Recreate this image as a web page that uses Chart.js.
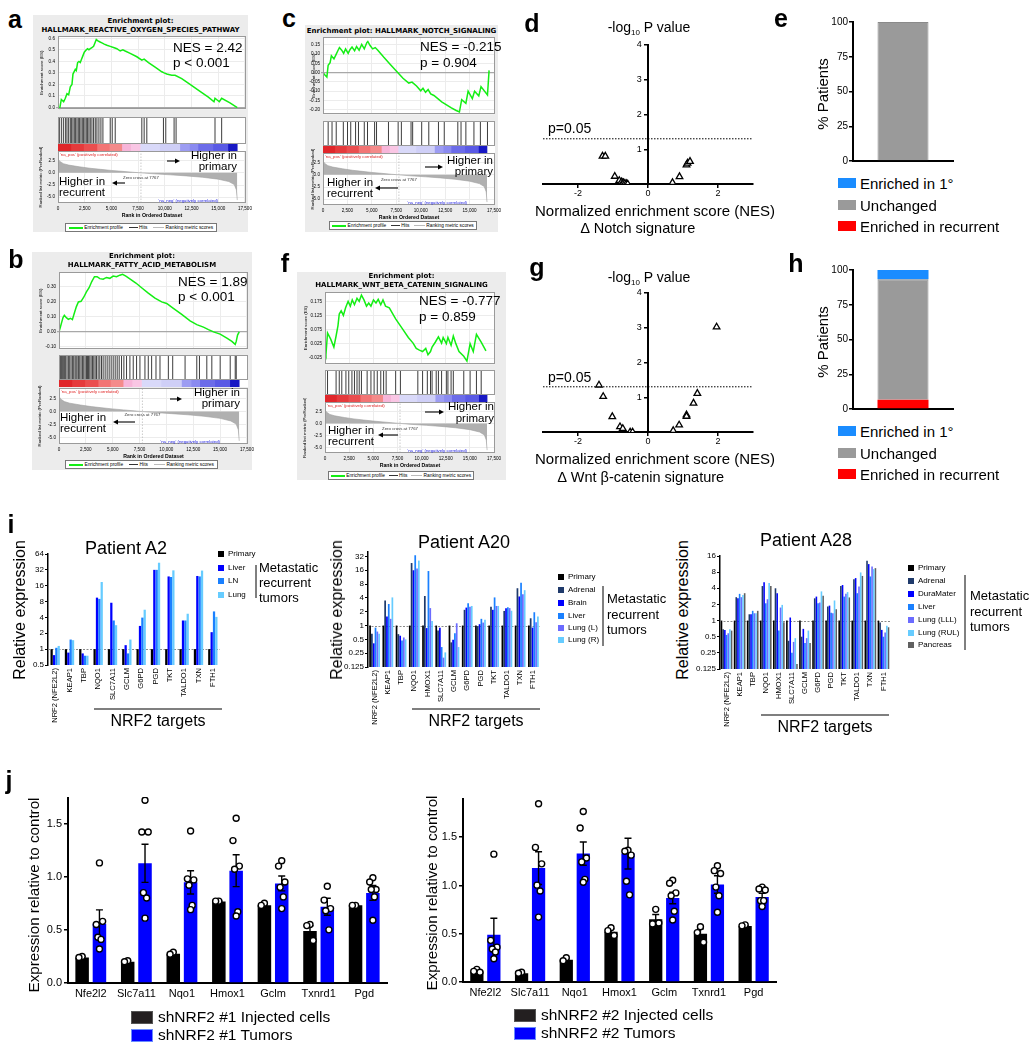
<!DOCTYPE html>
<html>
<head>
<meta charset="utf-8">
<title>NRF2 figure</title>
<script src="https://cdn.jsdelivr.net/npm/chart.js@4.4.1/dist/chart.umd.min.js"></script>
<style>
html, body { margin:0; padding:0; background:#fff; }
#root { position:relative; width:1035px; height:1050px; overflow:hidden; font-family:'Liberation Sans', Arial, sans-serif; color:#000; }
#root canvas { position:absolute; }
.t { position:absolute; white-space:nowrap; line-height:1; }
.bx { position:absolute; box-sizing:border-box; }
</style>
</head>
<body>
<div id="root"></div>
<script>
// ===================== DATA =====================
// GSEA shared ranked list
const RANK_MAX = 17600;
const ZERO_CROSS = 7767;
const rankTicks = [0, 2500, 5000, 7500, 10000, 12500, 15000, 17500];
const metricTicks = [-5, -2.5, 0, 2.5];
const metricRank = [0, 150, 500, 1000, 2000, 3000, 4000, 5000, 6000, 7000, 7767, 9000, 10500, 12000, 13500, 15000, 16000, 16500, 16700, 16784];
const metricValue = [2.9, 2.4, 1.9, 1.6, 1.25, 0.95, 0.72, 0.5, 0.32, 0.13, 0, -0.2, -0.4, -0.62, -0.9, -1.3, -1.8, -2.4, -3.5, -5.6];
const colorbarEdges = [0, 1200, 2400, 3640, 4800, 5970, 6800, 7680, 9500, 11400, 12300, 13100, 14500, 15900, 16780];

// a: HALLMARK_REACTIVE_OXYGEN_SPECIES_PATHWAY
const esTicksA = [0, 0.1, 0.2, 0.3, 0.4, 0.5, 0.6];
const esRankA = [0,156,311,529,685,841,997,1152,1308,1401,1619,1713,1837,1962,2086,2211,2336,2460,2647,2771,2896,3021,3176,3332,3457,3581,3706,3893,4111,4328,4578,4889,5200,5512,5823,6072,6290,6757,7380,7847,8065,8470,9093,9716,9934,10183,10650,10961,11584,12363,13297,14075,14604,14698,15103,15321,16099,16784];
const esScoreA = [0,-0.01,0.07,0.05,0.08,0.12,0.11,0.18,0.2,0.29,0.33,0.32,0.39,0.4,0.39,0.42,0.45,0.48,0.5,0.51,0.5,0.51,0.52,0.53,0.56,0.59,0.58,0.57,0.56,0.55,0.54,0.53,0.52,0.51,0.49,0.5,0.49,0.47,0.44,0.41,0.42,0.39,0.35,0.31,0.3,0.29,0.28,0.28,0.25,0.2,0.14,0.09,0.05,0.08,0.05,0.08,0.04,0];
const hitsA = [156,343,529,716,841,997,1152,1277,1401,1526,1650,1775,1900,2024,2149,2273,2398,2522,2647,2771,2896,3021,3176,3332,3488,3643,3830,4017,4204,4889,5076,5356,7847,8065,8314,9871,10089,10868,11055,14698,15321];

// b: HALLMARK_FATTY_ACID_METABOLISM
const esTicksB = [-0.1, -0.05, 0, 0.05, 0.1, 0.15, 0.2, 0.25, 0.3, 0.35];
const esRankB = [0,125,249,374,498,685,872,1059,1246,1432,1619,1806,2055,2304,2554,2803,3052,3301,3550,3799,4110,4422,4733,5045,5356,5668,5917,6228,6664,7162,7692,8314,8937,9560,10027,10650,11428,12207,12830,13452,13919,14386,15009,15632,16099,16410,16504,16628,16784];
const esScoreB = [0,0.031,0.063,0.094,0.11,0.094,0.083,0.09,0.081,0.125,0.167,0.198,0.202,0.229,0.265,0.292,0.333,0.365,0.365,0.352,0.348,0.36,0.354,0.369,0.365,0.375,0.381,0.369,0.348,0.323,0.292,0.256,0.223,0.198,0.188,0.156,0.115,0.073,0.048,0.031,0.015,0,-0.015,-0.042,-0.063,-0.083,-0.063,-0.021,0];
const hitsB = [125,218,311,436,529,623,747,872,996,1121,1246,1370,1495,1588,1682,1806,1931,2055,2180,2304,2429,2553,2647,2740,2865,2989,3114,3239,3363,3488,3643,3799,3955,4110,4297,4484,4671,4858,5045,5232,5418,5605,5823,6041,6290,6602,6913,7224,7536,8003,8314,8626,9031,9404,10183,10588,11740,12830,13079,13764,14231,15009,15943,16410,16504];

// c: HALLMARK_NOTCH_SIGNALING
const esTicksC = [-0.2, -0.15, -0.1, -0.05, 0, 0.05, 0.1, 0.15];
const esRankC = [0,198,396,528,726,858,1122,1320,1518,1683,1914,2112,2310,2574,2772,2970,3234,3432,3696,3960,4224,4488,4587,4818,5082,5346,5610,6204,6864,7524,8184,8778,9108,9570,9999,10230,10494,10758,11022,11352,11748,12144,12639,13134,13629,13959,14190,14619,14850,15279,15510,15939,16170,16830,16995];
const esScoreC = [0,-0.013,-0.024,0.04,0.054,0.091,0.074,0.096,0.118,0.135,0.121,0.104,0.128,0.104,0.125,0.138,0.118,0.141,0.121,0.152,0.128,0.162,0.168,0.146,0.128,0.135,0.121,0.084,0.045,0.007,-0.03,-0.056,-0.051,-0.072,-0.098,-0.084,-0.106,-0.091,-0.114,-0.123,-0.14,-0.157,-0.173,-0.19,-0.204,-0.212,-0.145,-0.165,-0.1,-0.14,-0.1,-0.125,-0.075,-0.12,0.012];
const hitsC = [528,924,1353,2079,2508,2838,3333,3630,4224,4554,5280,5478,6699,7689,8019,9009,9174,10098,10824,11814,12408,13794,14124,14619,15444,16104,16830];

// f: HALLMARK_WNT_BETA_CATENIN_SIGNALING
const esTicksF = [-0.025, 0, 0.025, 0.05, 0.075, 0.1, 0.125, 0.15, 0.175, 0.2];
const esRankF = [0,98,262,590,918,1148,1345,1476,1673,1902,2132,2394,2624,2821,3050,3313,3542,3772,4034,4297,4526,4756,5018,5281,5510,5773,6002,6265,6658,7314,7970,8626,9118,9446,9774,10102,10430,10660,10922,11086,11414,11742,12070,12234,12562,12726,13054,13284,13546,13874,14366,14694,15022,15350,15678,16170,16662];
const esScoreF = [0,-0.013,0.064,0.042,0.014,0.053,0.09,0.131,0.142,0.126,0.153,0.176,0.159,0.181,0.164,0.187,0.176,0.198,0.181,0.159,0.17,0.159,0.181,0.17,0.183,0.164,0.181,0.159,0.153,0.114,0.081,0.048,0.028,0.009,0.003,-0.002,0.009,-0.013,-0.002,0.014,0.031,0.05,0.028,0.048,0.026,0.048,0.02,0.053,0.026,-0.002,-0.019,-0.036,0.026,-0.002,0.059,0.031,0];
const hitsF = [262,1148,1476,1738,2165,2460,2788,3050,3313,3542,3772,4362,4756,5084,5412,5773,6068,6330,7314,7806,9610,10102,10594,10922,11086,11513,11742,12070,12562,12726,13054,13284,14366,15022,15678,16170];

// d / g volcano plots
const P05 = 1.301;
const volcanoXTicks = [-2, 0, 2];
const volcanoYTicks = [1, 2, 3, 4];
const notchNES = [-1.3, -1.22, -0.95, -0.82, -0.76, -0.72, -0.7, -0.66, -0.62, -0.58, 0.7, 0.9, 1.1, 1.13, 1.2];
const notchLogP = [0.8, 0.8, 0.22, 0.1, 0.06, 0.04, 0.03, 0.02, 0.01, 0.0, 0.04, 0.21, 0.55, 0.6, 0.65];
const wntNES = [-1.4, -1.28, -1.02, -0.8, -0.72, -0.51, -0.44, 0.72, 0.89, 1.1, 1.1, 1.3, 1.41, 1.96];
const wntLogP = [1.35, 1.02, 0.44, 0.15, 0.1, 0.0, 0.0, 0.04, 0.2, 0.49, 0.45, 0.83, 1.11, 3.02];

// e / h % patients
const pctTicks = [0, 25, 50, 75, 100];
const notchPct = { primary: 0, unchanged: 100, recurrent: 0 };
const wntPct = { primary: 6.7, unchanged: 86.6, recurrent: 6.7 };

// i: relative expression
const genesA2 = ['NRF2 (NFE2L2)', 'KEAP1', 'TBP', 'NQO1', 'SLC7A11', 'GCLM', 'G6PD', 'PGD', 'TKT', 'TALDO1', 'TXN', 'FTH1'];
const a2Names = ['Primary', 'Liver', 'LN', 'Lung'];
const a2Primary = [1, 1, 1, 1, 1, 1, 1, 1, 1, 1, 1, 1];
const a2Liver = [0.77, 0.86, 0.83, 9.5, 7.6, 1.19, 2.76, 32, 24, 3.5, 24.5, 2.1];
const a2LN = [1.06, 1.52, 0.75, 9.0, 3.5, 0.83, 3.97, 32, 23.4, 3.5, 24, 5.2];
const a2Lung = [1.15, 1.48, 0.75, 18.8, 2.85, 1.52, 5.6, 43.7, 31.3, 4.7, 31, 4.1];
const a2Ticks = [0.5, 1, 2, 4, 8, 16, 32, 64];

const genesA20 = ['NRF2 (NFE2L2)', 'KEAP1', 'TBP', 'NQO1', 'HMOX1', 'SLC7A11', 'GCLM', 'G6PD', 'PGD', 'TKT', 'TALDO1', 'TXN', 'FTH1'];
const a20Names = ['Primary', 'Adrenal', 'Brain', 'Liver', 'Lung (L)', 'Lung (R)'];
const a20Primary = [1, 1, 1, 1, 1, 1, 1, 1, 1, 1, 1, 1, 1];
const a20Adrenal = [0.66, 3.5, 0.65, 23, 4.4, 0.78, 0.43, 2.2, 0.97, 2.58, 2.08, 6.5, 1.44];
const a20Brain = [0.41, 1.57, 0.6, 16, 0.88, 0.9, 0.49, 2.46, 1.07, 2.2, 2.38, 4.3, 0.9];
const a20Liver = [0.9, 2.95, 0.47, 34, 15.4, 0.34, 0.68, 3.05, 1.4, 4.1, 2.5, 8.6, 1.95];
const a20LungL = [0.74, 1.4, 0.55, 17.5, 2.4, 0.2, 1.12, 2.58, 1.16, 2.67, 2.4, 4.8, 1.18];
const a20LungR = [0.66, 4.1, 0.5, 26, 1.26, 0.26, 0.34, 2.67, 1.33, 2.67, 2.1, 5.9, 1.57];
const a20Ticks = [0.125, 0.25, 0.5, 1, 2, 4, 8, 16, 32];

const genesA28 = genesA20;
const a28Names = ['Primary', 'Adrenal', 'DuraMater', 'Liver', 'Lung (LLL)', 'Lung (RUL)', 'Pancreas'];
const a28Primary = [1, 1, 1, 1, 1, 1, 1, 1, 1, 1, 1, 1, 1];
const a28Adrenal = [0.69, 2.73, 1.31, 4.4, 4.0, 0.42, 0.5, 2.6, 1.83, 4.4, 5.9, 13, 0.92];
const a28Dura = [0.67, 2.6, 1.31, 5.2, 3.24, 1.14, 0.7, 2.8, 1.9, 4.6, 6.2, 11.3, 0.67];
const a28Liver = [0.54, 3.15, 1.52, 2.1, 0.65, 0.25, 0.38, 2.1, 1.4, 2.8, 3.24, 6.65, 0.5];
const a28LLL = [0.58, 2.73, 1.37, 2.5, 1.75, 0.4, 0.47, 2.17, 1.37, 3.15, 4.3, 10.2, 0.6];
const a28RUL = [0.69, 3.0, 1.37, 5.0, 1.96, 0.47, 0.65, 3.5, 2.37, 3.4, 7.9, 9.1, 0.8];
const a28Panc = [0.65, 3.24, 1.52, 4.4, 0.93, 0.155, 0.38, 2.9, 1.63, 2.7, 6.8, 9.5, 0.75];
const a28Ticks = [0.125, 0.25, 0.5, 1, 2, 4, 8, 16];

// j: shNRF2 experiments
const genesJ = ['Nfe2l2', 'Slc7a11', 'Nqo1', 'Hmox1', 'Gclm', 'Txnrd1', 'Pgd'];
const jTicks = [0, 0.5, 1, 1.5];
const cells1Mean = [0.24, 0.20, 0.275, 0.77, 0.735, 0.49, 0.735];
const cells1Sem = [0.01, 0.01, 0.015, 0.005, 0.01, 0.05, 0.005];
const tum1Mean = [0.56, 1.13, 0.95, 1.06, 0.94, 0.72, 0.85];
const tum1Sem = [0.13, 0.18, 0.11, 0.15, 0.07, 0.08, 0.07];
const cells1Pts = [[0.25, 0.24], [0.21, 0.2], [0.29, 0.27], [0.77, 0.77], [0.75, 0.73], [0.55, 0.54, 0.4], [0.73, 0.73]];
const tum1Pts = [[1.13, 0.55, 0.58, 0.43, 0.41, 0.32], [1.72, 1.42, 1.42, 0.85, 0.8, 0.61], [1.43, 0.98, 0.97, 0.92, 0.73, 0.69], [1.55, 1.34, 1.1, 1.07, 0.67, 0.63], [1.15, 1.1, 0.95, 0.9, 0.81, 0.7], [0.91, 0.78, 0.7, 0.68, 0.5], [0.99, 0.95, 0.88, 0.88, 0.81, 0.59]];
const cells2Mean = [0.11, 0.09, 0.23, 0.52, 0.65, 0.5, 0.58];
const cells2Sem = [0.01, 0.005, 0.01, 0.03, 0.05, 0.05, 0.005];
const tum2Mean = [0.49, 1.18, 1.33, 1.33, 0.87, 1.01, 0.88];
const tum2Sem = [0.17, 0.17, 0.12, 0.16, 0.06, 0.09, 0.04];
const cells2Pts = [[0.13, 0.11, 0.1], [0.1, 0.09], [0.25, 0.22], [0.56, 0.53, 0.48], [0.75, 0.6, 0.61], [0.57, 0.51, 0.41], [0.59, 0.58]];
const tum2Pts = [[1.32, 0.43, 0.36, 0.34, 0.31, 0.24], [1.84, 1.39, 1.22, 1.0, 0.94, 0.67], [1.76, 1.59, 1.28, 1.24, 1.06, 1.03], [1.36, 1.35, 1.31, 1.04, 0.9], [1.05, 1.02, 0.92, 0.89, 0.73, 0.64], [1.2, 1.15, 1.12, 0.98, 0.89, 0.72], [0.98, 0.96, 0.95, 0.84, 0.84, 0.78]];

// ===================== STYLE / HELPERS =====================
const FONT = "'Liberation Sans', Arial, sans-serif";
Chart.defaults.font.family = FONT;
Chart.defaults.color = '#000';
Chart.defaults.animation = false;
Chart.defaults.responsive = false;
Chart.defaults.maintainAspectRatio = false;
Chart.defaults.events = [];
Chart.defaults.plugins.legend.display = false;
Chart.defaults.plugins.tooltip.enabled = false;

const colorbarColors = ['#e0262a', '#e53a3c', '#ea4e4f', '#f27474', '#f48a8a', '#f7b5d9', '#f9c6e4', '#d9d9f9', '#cfcff7', '#9c9cf2', '#8a8af0', '#6c6ce9', '#5a5ae5', '#1818c4'];

Chart.register({
  id: 'frame',
  beforeDraw(chart, args, opts) {
    if (!opts || !opts.fill) return;
    const a = chart.chartArea, c = chart.ctx;
    c.save(); c.fillStyle = opts.fill; c.fillRect(a.left, a.top, a.right - a.left, a.bottom - a.top); c.restore();
  },
  afterDraw(chart, args, opts) {
    if (!opts || !opts.stroke) return;
    const a = chart.chartArea, c = chart.ctx;
    c.save(); c.strokeStyle = opts.stroke; c.lineWidth = 1;
    c.strokeRect(Math.round(a.left) + 0.5, Math.round(a.top) + 0.5, Math.round(a.right - a.left) - 1, Math.round(a.bottom - a.top) - 1);
    c.restore();
  }
});
Chart.register({
  id: 'refline',
  beforeDatasetsDraw(chart, args, opts) {
    if (!opts || opts.value == null) return;
    const a = chart.chartArea, c = chart.ctx, y = chart.scales.y.getPixelForValue(opts.value);
    c.save(); c.strokeStyle = '#8a8a8a'; c.lineWidth = 1; c.setLineDash([2, 1.5]);
    c.beginPath(); c.moveTo(a.left, Math.round(y) + 0.5); c.lineTo(a.right, Math.round(y) + 0.5); c.stroke(); c.restore();
  }
});
Chart.register({
  id: 'errbars',
  afterDatasetDraw(chart, args) {
    const ds = chart.data.datasets[args.index];
    if (!ds.err) return;
    const y = chart.scales.y, c = chart.ctx;
    c.save(); c.strokeStyle = '#000'; c.lineWidth = 1.4;
    args.meta.data.forEach((bar, j) => {
      const v = ds.data[j], e = ds.err[j];
      const yt = y.getPixelForValue(v + e), yb = y.getPixelForValue(v - e), x = bar.x, cw = 3.5;
      c.beginPath();
      c.moveTo(x, yt); c.lineTo(x, yb);
      c.moveTo(x - cw, yt); c.lineTo(x + cw, yt);
      c.moveTo(x - cw, yb); c.lineTo(x + cw, yb);
      c.stroke();
    });
    c.restore();
  }
});

const root = document.getElementById('root');
const NS = 'http://www.w3.org/2000/svg';
const svg = document.createElementNS(NS, 'svg');
svg.setAttribute('width', 1035); svg.setAttribute('height', 1050);
svg.style.cssText = 'position:absolute;left:0;top:0;pointer-events:none;z-index:5';

function xy(xs, ys) { return xs.map((x, i) => ({ x: x, y: ys[i] })); }
function fixTicks(arr) { return s => { s.ticks = arr.map(v => ({ value: v })); }; }

function mkCanvas(x, y, w, h) {
  const c = document.createElement('canvas');
  c.width = w; c.height = h;
  c.style.left = x + 'px'; c.style.top = y + 'px';
  c.style.width = w + 'px'; c.style.height = h + 'px';
  root.appendChild(c);
  return c;
}
// place a chart so that its chart area is exactly `area` (page px); m = room for axes
function place(area, m, cfg) {
  const x = Math.round(area.l - m.l), y = Math.round(area.t - m.t);
  const w = Math.round(area.r - area.l + m.l + m.r), h = Math.round(area.b - area.t + m.t + m.b);
  const cv = mkCanvas(x, y, w, h);
  const pad = { left: m.l, right: m.r, top: m.t, bottom: m.b };
  cfg.options = cfg.options || {};
  const sc = cfg.options.scales || {};
  Object.keys(sc).forEach(id => {
    const s = sc[id];
    if (s.display === false) return;
    const axis = s.axis || id[0];
    const pos = s.position || (axis === 'x' ? 'bottom' : 'left');
    if (typeof pos !== 'string') return;
    const size = pad[pos];
    pad[pos] = 0;
    s.afterFit = scale => { if (pos === 'left' || pos === 'right') scale.width = size; else scale.height = size; };
  });
  cfg.options.layout = { padding: pad };
  cfg.options.devicePixelRatio = 1;
  return new Chart(cv.getContext('2d'), cfg);
}

function T(x, y, html, o) {
  o = o || {};
  const d = document.createElement('div');
  d.className = 't';
  d.innerHTML = html;
  const s = d.style, size = o.size || 12;
  s.fontSize = size + 'px';
  if (o.bold) s.fontWeight = 'bold';
  if (o.color) s.color = o.color;
  if (o.family) s.fontFamily = o.family;
  s.left = x + 'px'; s.top = y + 'px';
  const ax = o.align === 'center' ? '-50%' : o.align === 'right' ? '-100%' : '0';
  s.transform = o.rot ? 'translate(-50%,-50%) rotate(' + o.rot + 'deg)' : 'translate(' + ax + ',-50%)';
  root.appendChild(d);
  return d;
}
function letter(ch, x, baseline) { T(x, baseline - 8.7, ch, { size: 25, bold: true, align: 'center' }); }
function box(x, y, w, h, css) {
  const d = document.createElement('div');
  d.className = 'bx';
  d.style.cssText += 'left:' + x + 'px;top:' + y + 'px;width:' + w + 'px;height:' + h + 'px;' + (css || '');
  root.appendChild(d);
  return d;
}
function line(x1, y1, x2, y2, w, col, dash) {
  const l = document.createElementNS(NS, 'line');
  l.setAttribute('x1', x1); l.setAttribute('y1', y1); l.setAttribute('x2', x2); l.setAttribute('y2', y2);
  l.setAttribute('stroke', col || '#000'); l.setAttribute('stroke-width', w || 1);
  if (dash) l.setAttribute('stroke-dasharray', dash);
  svg.appendChild(l);
}
function arrow(x1, y1, x2, y2) {
  const dir = Math.sign(x2 - x1);
  line(x1, y1, x2 - dir * 4, y2, 1.1);
  const p = document.createElementNS(NS, 'polygon');
  p.setAttribute('points', (x2) + ',' + y2 + ' ' + (x2 - dir * 5) + ',' + (y2 - 2.5) + ' ' + (x2 - dir * 5) + ',' + (y2 + 2.5));
  p.setAttribute('fill', '#000');
  svg.appendChild(p);
}

// ===================== GSEA PANELS =====================
function gsea(G) {
  box(G.bg[0], G.bg[1], G.bg[2] - G.bg[0], G.bg[3] - G.bg[1], 'background:#ececec;');
  const cx = (G.bg[0] + G.bg[2]) / 2;
  G.title.forEach((s, i) => T(cx, G.titleY[i], s, { size: 7, bold: true, align: 'center', family: "'DejaVu Sans', sans-serif" }));
  const L = G.es.l, R = G.es.r, mL = L - G.bg[0];
  const lightGrid = '#ececec';
  // enrichment score
  place({ l: L, r: R, t: G.es.t, b: G.es.b }, { l: mL, t: 4, r: 3, b: 0 }, {
    type: 'scatter',
    data: { datasets: [{ data: xy(G.esX, G.esY), showLine: true, borderColor: '#14ee14', borderWidth: 1.5, pointRadius: 0 }] },
    options: {
      plugins: { frame: { fill: '#fff', stroke: '#9a9a9a' } },
      scales: {
        x: { type: 'linear', min: 0, max: RANK_MAX, afterBuildTicks: fixTicks(rankTicks), ticks: { display: false }, grid: { color: lightGrid, drawTicks: false }, border: { display: false } },
        y: { type: 'linear', min: G.esMin, max: G.esMax, afterBuildTicks: fixTicks(G.esTicks),
             ticks: { font: { size: 4.6 }, padding: 1, callback: v => v.toFixed(G.esDec) },
             grid: { color: c => (c.tick && Math.abs(c.tick.value) < 1e-9) ? '#a8a8a8' : lightGrid, lineWidth: c => (c.tick && Math.abs(c.tick.value) < 1e-9) ? 1.2 : 1, tickLength: 2 },
             border: { display: false },
             title: { display: true, text: 'Enrichment score (ES)', font: { size: 4.4 }, padding: { top: 6, bottom: 0 } } }
      }
    }
  });
  // hits
  place({ l: L, r: R, t: G.hb.t, b: G.hb.b }, { l: 0, t: 0, r: 0, b: 0 }, {
    type: 'bar',
    data: { datasets: [{ data: G.hits.map(r => ({ x: r, y: [0, 1] })), backgroundColor: '#3c3c3c', barThickness: 1, inflateAmount: 0 }] },
    options: {
      plugins: { frame: { fill: '#fff', stroke: '#9a9a9a' } },
      scales: { x: { type: 'linear', min: 0, max: RANK_MAX, display: false, offset: false }, y: { min: 0, max: 1, display: false } }
    }
  });
  // colour bar
  place({ l: L, r: R, t: G.cb.t, b: G.cb.b }, { l: 0, t: 0, r: 0, b: 0 }, {
    type: 'bar',
    data: { labels: [''], datasets: colorbarColors.map((col, i) => ({ data: [[colorbarEdges[i], colorbarEdges[i + 1]]], backgroundColor: col, barPercentage: 1, categoryPercentage: 1, grouped: false })) },
    options: {
      indexAxis: 'y',
      plugins: { frame: { fill: '#fff' } },
      scales: { x: { type: 'linear', min: 0, max: RANK_MAX, display: false }, y: { display: false } }
    }
  });
  // ranked list metric
  const rMin = -6.2, rMax = 4.5;
  place({ l: L, r: R, t: G.rk.t, b: G.rk.b }, { l: mL, t: 4, r: 12, b: 16 }, {
    type: 'scatter',
    data: { datasets: [
      { data: xy(metricRank, metricValue), showLine: true, fill: 'origin', backgroundColor: '#b0b0b0', borderColor: '#a0a0a0', borderWidth: 0.6, pointRadius: 0 },
      { data: [{ x: ZERO_CROSS, y: rMin }, { x: ZERO_CROSS, y: rMax }], showLine: true, borderColor: '#bcbcbc', borderWidth: 0.8, borderDash: [1.5, 1.5], pointRadius: 0 }
    ] },
    options: {
      plugins: { frame: { fill: '#fff', stroke: '#9a9a9a' } },
      scales: {
        x: { type: 'linear', min: 0, max: RANK_MAX, afterBuildTicks: fixTicks(rankTicks),
             ticks: { font: { size: 4.6 }, padding: 1, maxRotation: 0, autoSkip: false, callback: v => v.toLocaleString('en-US') },
             grid: { color: lightGrid, tickLength: 2 }, border: { display: false },
             title: { display: true, text: 'Rank in Ordered Dataset', font: { size: 5.2, weight: 'bold' }, padding: { top: 1, bottom: 0 } } },
        y: { type: 'linear', min: rMin, max: rMax, afterBuildTicks: fixTicks(metricTicks),
             ticks: { font: { size: 4.6 }, padding: 1, callback: v => v.toFixed(1) },
             grid: { color: lightGrid, tickLength: 2 }, border: { display: false },
             title: { display: true, text: 'Ranked list metric (PreRanked)', font: { size: 4.4 }, padding: { top: 5, bottom: 0 } } }
      }
    }
  });
  // ranked list annotations
  const zx = L + (ZERO_CROSS / RANK_MAX) * (R - L);
  T(L + 2, G.rk.t + 4, "'na_pos' (positively correlated)", { size: 4.3, color: '#e02020' });
  T(zx, G.rk.t + 27, 'Zero cross at 7767', { size: 4.3, align: 'center', color: '#333' });
  T(R - 28, G.rk.b - 2.5, "'na_neg' (negatively correlated)", { size: 4.3, align: 'right', color: '#2020e0' });
  // legend
  const lg = box(G.leg.l, G.leg.t, G.leg.w, 9, 'border:1px solid #777;background:#fff;font-size:4.8px;display:flex;align-items:center;justify-content:space-around;font-family:' + FONT + ';');
  lg.innerHTML = '<span><i style="display:inline-block;width:14px;height:1.6px;background:#14ee14;vertical-align:middle"></i> Enrichment profile</span>' +
    '<span><i style="display:inline-block;width:9px;height:1px;background:#333;vertical-align:middle"></i> Hits</span>' +
    '<span><i style="display:inline-block;width:11px;height:1px;background:#bbb;vertical-align:middle"></i> Ranking metric scores</span>';
  // statistics + direction labels
  T(G.nesPos[0], G.nesPos[1], G.nes, { size: 13.5 });
  T(G.pPos[0], G.pPos[1], G.p, { size: 13.5 });
  T(G.prim.x, G.prim.y[0], 'Higher in', { size: 11.5, align: 'right' });
  T(G.prim.x, G.prim.y[1], 'primary', { size: 11.5, align: 'right' });
  T(G.rec.x, G.rec.y[0], 'Higher in', { size: 11.5 });
  T(G.rec.x, G.rec.y[1], 'recurrent', { size: 11.5 });
  arrow.apply(null, G.primArrow);
  arrow.apply(null, G.recArrow);
}

gsea({ bg: [33, 15, 248, 232], title: ['Enrichment plot:', 'HALLMARK_REACTIVE_OXYGEN_SPECIES_PATHWAY'], titleY: [21, 30],
  es: { l: 58, r: 246, t: 36, b: 113 }, hb: { t: 117, b: 144 }, cb: { t: 144, b: 151 }, rk: { t: 151, b: 203 }, leg: { l: 65, t: 223, w: 152 },
  esMin: -0.015, esMax: 0.62, esTicks: esTicksA, esDec: 1, esX: esRankA, esY: esScoreA, hits: hitsA,
  nes: 'NES = 2.42', p: 'p &lt; 0.001', nesPos: [173, 48], pPos: [173, 63],
  prim: { x: 237, y: [156, 167] }, primArrow: [167, 161, 180, 161], rec: { x: 59, y: [182, 193] }, recArrow: [125, 183, 112, 183] });

gsea({ bg: [32, 252, 252, 470], title: ['Enrichment plot:', 'HALLMARK_FATTY_ACID_METABOLISM'], titleY: [256, 265],
  es: { l: 59, r: 248, t: 272, b: 353 }, hb: { t: 355, b: 380 }, cb: { t: 380, b: 387 }, rk: { t: 388, b: 444 }, leg: { l: 65, t: 460, w: 153 },
  esMin: -0.115, esMax: 0.396, esTicks: esTicksB, esDec: 2, esX: esRankB, esY: esScoreB, hits: hitsB,
  nes: 'NES = 1.89', p: 'p &lt; 0.001', nesPos: [178, 282], pPos: [178, 297],
  prim: { x: 240, y: [393, 404] }, primArrow: [170, 399, 182, 399], rec: { x: 60, y: [418, 429] }, recArrow: [135, 422, 113, 422] });

gsea({ bg: [305, 25, 498, 232], title: ['Enrichment plot: HALLMARK_NOTCH_SIGNALING'], titleY: [31],
  es: { l: 323, r: 495, t: 37, b: 118 }, hb: { t: 121, b: 146 }, cb: { t: 146, b: 153 }, rk: { t: 153, b: 205 }, leg: { l: 329, t: 221, w: 148 },
  esMin: -0.224, esMax: 0.192, esTicks: esTicksC, esDec: 2, esX: esRankC, esY: esScoreC, hits: hitsC,
  nes: 'NES = -0.215', p: 'p = 0.904', nesPos: [420, 47], pPos: [420, 63],
  prim: { x: 493, y: [161, 172] }, primArrow: [425, 167, 443, 167], rec: { x: 327, y: [183, 194] }, recArrow: [398, 188, 375, 188] });

gsea({ bg: [297, 272, 506, 480], title: ['Enrichment plot:', 'HALLMARK_WNT_BETA_CATENIN_SIGNALING'], titleY: [276, 285],
  es: { l: 325, r: 495, t: 292, b: 368 }, hb: { t: 370, b: 395 }, cb: { t: 395, b: 402 }, rk: { t: 402, b: 453 }, leg: { l: 328, t: 471, w: 146 },
  esMin: -0.047, esMax: 0.209, esTicks: esTicksF, esDec: 3, esX: esRankF, esY: esScoreF, hits: hitsF,
  nes: 'NES = -0.777', p: 'p = 0.859', nesPos: [419, 301], pPos: [419, 317],
  prim: { x: 494, y: [407, 419] }, primArrow: [425, 412, 444, 412], rec: { x: 328, y: [431, 442] }, recArrow: [398, 435, 378, 435] });

// ===================== VOLCANO (d, g) =====================
function volcano(V) {
  place({ l: 543, r: 753, t: V.t, b: V.b }, { l: 22, t: 10, r: 10, b: 20 }, {
    type: 'scatter',
    data: { datasets: [
      { data: xy(V.x, V.y), pointStyle: 'triangle', pointRadius: 3.8, pointBackgroundColor: '#fff', pointBorderColor: '#000', pointBorderWidth: 1.3 },
      { data: [{ x: -3, y: P05 }, { x: 3, y: P05 }], showLine: true, borderColor: '#000', borderWidth: 1, borderDash: [1.5, 1.5], pointRadius: 0 }
    ] },
    options: {
      scales: {
        x: { type: 'linear', min: -3, max: 3, position: { y: 0 }, afterBuildTicks: fixTicks(volcanoXTicks),
             ticks: { font: { size: 9 }, padding: 1 }, grid: { display: true, drawOnChartArea: false, color: '#000', tickLength: 3, lineWidth: 1.5 }, border: { color: '#000', width: 2 } },
        y: { type: 'linear', min: 0, max: 4, position: { x: 0 }, afterBuildTicks: fixTicks(volcanoYTicks),
             ticks: { font: { size: 9 }, padding: 1, callback: v => String(v) + '\u2002\u2009' }, grid: { display: true, drawOnChartArea: false, color: '#000', tickLength: 3, lineWidth: 1.5 }, border: { color: '#000', width: 2 } }
      }
    }
  });
  T(649, V.titleY, '-log<sub style="font-size:8px;vertical-align:-3px">10</sub> P value', { size: 14, align: 'center' });
  T(548, V.pY, 'p=0.05', { size: 14 });
  T(655, V.nesY, 'Normalized enrichment score (NES)', { size: 15, align: 'center' });
  T(V.sigX, V.sigY, '∆ ' + V.sig, { size: 14.5, align: 'center' });
}
volcano({ t: 45, b: 184, x: notchNES, y: notchLogP, titleY: 28, pY: 128, nesY: 210, sigY: 228, sigX: 638, sig: 'Notch signature' });
volcano({ t: 293, b: 432, x: wntNES, y: wntLogP, titleY: 278, pY: 377, nesY: 458, sigY: 477, sigX: 641, sig: 'Wnt β-catenin signature' });

// ===================== % PATIENTS (e, h) =====================
function pctPanel(S) {
  place({ l: 853, r: 953, t: S.t, b: S.b }, { l: 32, t: 8, r: 6, b: 3 }, {
    type: 'bar',
    data: { labels: [''], datasets: [
      { data: [S.v.recurrent], backgroundColor: '#ff0000', barPercentage: 0.51, categoryPercentage: 1 },
      { data: [S.v.unchanged], backgroundColor: '#9a9a9a', borderColor: '#8a8a8a', borderWidth: 1, barPercentage: 0.51, categoryPercentage: 1 },
      { data: [S.v.primary], backgroundColor: '#1a8cff', barPercentage: 0.51, categoryPercentage: 1 }
    ] },
    options: {
      scales: {
        x: { stacked: true, ticks: { display: false }, grid: { display: false, drawTicks: false }, border: { color: '#000', width: 2 } },
        y: { stacked: true, min: 0, max: 100, afterBuildTicks: fixTicks(pctTicks), ticks: { font: { size: 10 }, padding: 1 },
             grid: { display: true, drawOnChartArea: false, color: '#000', tickLength: 4, lineWidth: 1.5 }, border: { color: '#000', width: 2 } }
      }
    }
  });
  T(822, (S.t + S.b) / 2, '% Patients', { size: 15, rot: -90 });
  const names = ['Enriched in 1°', 'Unchanged', 'Enriched in recurrent'], cols = ['#1a8cff', '#9a9a9a', '#ff0000'];
  names.forEach((n, k) => {
    box(838, S.leg[k] - 5, 18, 10, 'background:' + cols[k] + ';');
    T(860, S.leg[k], n, { size: 15 });
  });
}
pctPanel({ t: 22, b: 165, v: notchPct, leg: [183, 205, 226] });
pctPanel({ t: 270, b: 413, v: wntPct, leg: [431, 453, 474] });

// ===================== RELATIVE EXPRESSION (i) =====================
function expr(E) {
  place(E.area, { l: 26, t: 8, r: 6, b: 75 }, {
    type: 'bar',
    data: { labels: E.labels, datasets: E.series.map((d, i) => ({ data: d, backgroundColor: E.colors[i], barPercentage: 0.95, categoryPercentage: E.cat })) },
    options: {
      plugins: { refline: { value: 1 } },
      scales: {
        x: { ticks: { font: { size: 7.6 }, minRotation: 90, maxRotation: 90, autoSkip: false, padding: 3 }, grid: { display: false, drawTicks: false }, border: { display: false } },
        y: { type: 'logarithmic', min: E.min, max: E.max, afterBuildTicks: fixTicks(E.ticks), ticks: { font: { size: 8 }, padding: 1, callback: v => String(v) },
             grid: { display: true, drawOnChartArea: false, color: '#000', tickLength: 3, lineWidth: 1 }, border: { color: '#000', width: 1.5 } }
      }
    }
  });
  T(E.title[0], E.title[1], E.name, { size: 18, align: 'center' });
  T(E.ylab, 610, 'Relative expression', { size: 16, rot: -90 });
  E.legNames.forEach((n, k) => {
    box(E.leg.x, E.leg.rows[k] - 3, 6, 6, 'background:' + E.colors[k] + ';');
    T(E.leg.x + 10, E.leg.rows[k], n, { size: 8 });
  });
  line(E.br.x, E.br.y0, E.br.x, E.br.y1, 1);
  ['Metastatic', 'recurrent', 'tumors'].forEach((w, k) => T(E.br.tx, E.br.ty[k], w, { size: 13 }));
  line(E.tg.x0, E.tg.y, E.tg.x1, E.tg.y, 1.2);
  T((E.tg.x0 + E.tg.x1) / 2, E.tg.y + 12, 'NRF2 targets', { size: 16, align: 'center' });
}
expr({ area: { l: 48, r: 220, t: 554, b: 665 }, labels: genesA2, series: [a2Primary, a2Liver, a2LN, a2Lung], legNames: a2Names,
  colors: ['#000000', '#0000ff', '#1a80ff', '#66ccff'], min: 0.5, max: 64, ticks: a2Ticks, cat: 0.66,
  name: 'Patient A2', title: [126, 548], ylab: 20,
  leg: { x: 218, rows: [554, 568, 581, 595] }, br: { x: 256, y0: 565, y1: 598, tx: 259, ty: [567, 582, 597] }, tg: { x0: 94, x1: 222, y: 709 } });
expr({ area: { l: 368, r: 540, t: 552, b: 667 }, labels: genesA20, series: [a20Primary, a20Adrenal, a20Brain, a20Liver, a20LungL, a20LungR], legNames: a20Names,
  colors: ['#000000', '#1f3a6b', '#0000ff', '#1a80ff', '#6b6bff', '#66ccff'], min: 0.125, max: 40, ticks: a20Ticks, cat: 0.82,
  name: 'Patient A20', title: [464, 542], ylab: 337,
  leg: { x: 558, rows: [577, 590, 603, 616, 628, 640] }, br: { x: 603, y0: 586, y1: 646, tx: 607, ty: [598, 614, 629] }, tg: { x0: 412, x1: 540, y: 709 } });
expr({ area: { l: 720, r: 890, t: 556, b: 669 }, labels: genesA28, series: [a28Primary, a28Adrenal, a28Dura, a28Liver, a28LLL, a28RUL, a28Panc], legNames: a28Names,
  colors: ['#000000', '#1f3a6b', '#0000ff', '#1a80ff', '#6b6bff', '#66ccff', '#606060'], min: 0.125, max: 16, ticks: a28Ticks, cat: 0.9,
  name: 'Patient A28', title: [806, 540], ylab: 683,
  leg: { x: 908, rows: [568, 581, 594, 607, 620, 633, 645] }, br: { x: 965, y0: 575, y1: 650, tx: 970, ty: [595, 611, 626] }, tg: { x0: 761, x1: 889, y: 715 } });

// ===================== shNRF2 (j) =====================
const JIT = [0, -0.07, 0.07, -0.035, 0.035, 0.0];
function jchart(J) {
  const CAT = 0.76, OFF = CAT / 4;
  const M = { l: 30, t: 8, r: 6, b: 22 };
  // bars with SEM error bars
  place(J.area, M, {
    type: 'bar',
    data: { labels: genesJ, datasets: [
      { data: J.cellsMean, err: J.cellsSem, backgroundColor: '#000000', barPercentage: 0.78, categoryPercentage: CAT },
      { data: J.tumMean, err: J.tumSem, backgroundColor: '#0000ff', barPercentage: 0.78, categoryPercentage: CAT }
    ] },
    options: {
      scales: {
        x: { ticks: { font: { size: 11 }, padding: 4, maxRotation: 0, autoSkip: false }, grid: { display: false, drawTicks: false }, border: { color: '#000', width: 2 } },
        y: { type: 'linear', min: 0, max: J.max, afterBuildTicks: fixTicks(jTicks), ticks: { font: { size: 11 }, padding: 2, callback: v => v.toFixed(1) },
             grid: { display: true, drawOnChartArea: false, color: '#000', tickLength: 4, lineWidth: 1.5 }, border: { color: '#000', width: 2 } }
      }
    }
  });
  // individual points, same plotting area, same y range
  const pts = (arr, off) => arr.flatMap((g, i) => g.map((v, k) => ({ x: i + off + JIT[k % JIT.length], y: v })));
  const ptStyle = { pointRadius: 3, pointBackgroundColor: '#fff', pointBorderColor: '#000', pointBorderWidth: 1.4 };
  place(J.area, M, {
    type: 'scatter',
    data: { datasets: [
      Object.assign({ data: pts(J.cellsPts, -OFF) }, ptStyle),
      Object.assign({ data: pts(J.tumPts, OFF) }, ptStyle)
    ] },
    options: {
      scales: {
        x: { type: 'linear', min: -0.5, max: genesJ.length - 0.5, display: false },
        y: { type: 'linear', min: 0, max: J.max, display: false }
      }
    }
  });
  T(J.ylab[0], J.ylab[1], 'Expression relative to control', { size: 15.2, rot: -90 });
  box(J.leg.x, J.leg.y[0] - 6.5, 22, 13, 'background:#231f20;border:1px solid #555;');
  box(J.leg.x, J.leg.y[1] - 6.5, 22, 13, 'background:#0000ff;border:1px solid #6a8cff;');
  T(J.leg.x + 27, J.leg.y[0], J.names[0], { size: 15.5 });
  T(J.leg.x + 27, J.leg.y[1], J.names[1], { size: 15.5 });
}
jchart({ area: { l: 68, r: 387, t: 797, b: 983 }, max: 1.75, cellsMean: cells1Mean, cellsSem: cells1Sem, tumMean: tum1Mean, tumSem: tum1Sem,
  cellsPts: cells1Pts, tumPts: tum1Pts, ylab: [34, 895], leg: { x: 131, y: [1017, 1035] }, names: ['shNRF2 #1 Injected cells', 'shNRF2 #1 Tumors'] });
jchart({ area: { l: 463, r: 776, t: 798, b: 982 }, max: 1.9, cellsMean: cells2Mean, cellsSem: cells2Sem, tumMean: tum2Mean, tumSem: tum2Sem,
  cellsPts: cells2Pts, tumPts: tum2Pts, ylab: [432, 893], leg: { x: 514, y: [1015, 1033] }, names: ['shNRF2 #2 Injected cells', 'shNRF2 #2 Tumors'] });

// ===================== PANEL LETTERS =====================
letter('a', 15, 28); letter('b', 16, 268); letter('c', 289, 27); letter('d', 532, 32); letter('e', 781, 27);
letter('f', 285, 272); letter('g', 537, 276); letter('h', 796, 272); letter('i', 11, 533); letter('j', 9, 789);

root.appendChild(svg);
</script>
</body>
</html>
